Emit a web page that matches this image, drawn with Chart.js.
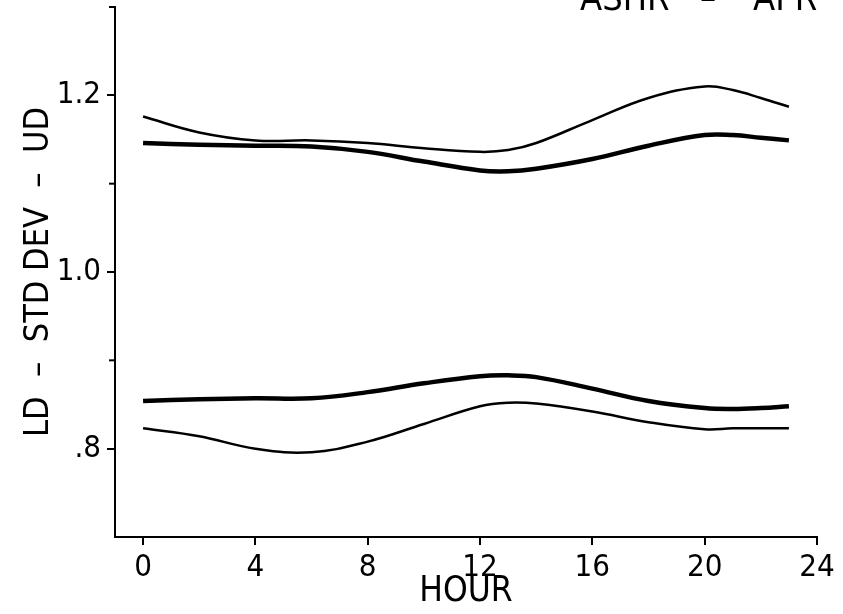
<!DOCTYPE html>
<html>
<head>
<meta charset="utf-8">
<script src="https://cdn.jsdelivr.net/npm/chart.js@4.4.1/dist/chart.umd.min.js"></script>
<style>
  html, body { margin: 0; padding: 0; background: #fff; }
  #wrap { width: 843px; height: 614px; position: relative; }
</style>
</head>
<body>
<div id="wrap"><canvas id="myChart" width="843" height="614"></canvas></div>
<script>
// hours of day
const hours = [0, 2, 4, 6, 8, 10, 12, 13, 14, 16, 18, 20, 21, 22, 23];

// UD curves (upper pair)
const udThin  = [1.176, 1.158, 1.149, 1.149, 1.146, 1.140, 1.136, 1.138, 1.146, 1.172, 1.197, 1.210, 1.206, 1.197, 1.187];
const udThick = [1.146, 1.144, 1.143, 1.142, 1.136, 1.125, 1.115, 1.114, 1.117, 1.128, 1.143, 1.155, 1.155, 1.152, 1.149];

// LD curves (lower pair)
const ldThick = [0.854, 0.856, 0.857, 0.857, 0.864, 0.874, 0.882, 0.883, 0.881, 0.868, 0.854, 0.846, 0.845, 0.846, 0.848];
const ldThin  = [0.823, 0.814, 0.800, 0.796, 0.808, 0.828, 0.848, 0.852, 0.851, 0.842, 0.830, 0.822, 0.823, 0.823, 0.823];

const xTicks = [0, 4, 8, 12, 16, 20, 24];
const yMajor = [0.8, 1.0, 1.2];
const yMinor = [0.9, 1.1, 1.3];

const FONT = "'Liberation Sans Narrow', 'DejaVu Sans Condensed', 'Liberation Sans', sans-serif";

function pts(ys) {
  return hours.map((h, i) => ({ x: h, y: ys[i] }));
}
function line(ys, w) {
  return {
    data: pts(ys),
    borderColor: '#000',
    borderWidth: w,
    pointRadius: 0,
    fill: false,
    tension: 0.4
  };
}

// short minor ticks on the y axis + cut-off header text
const extras = {
  id: 'extras',
  afterDraw(chart) {
    const ctx = chart.ctx;
    const y = chart.scales.y;
    ctx.save();
    ctx.strokeStyle = '#000';
    ctx.lineWidth = 2;
    yMinor.forEach(v => {
      const py = y.getPixelForValue(v);
      ctx.beginPath();
      ctx.moveTo(y.right - 6, py);
      ctx.lineTo(y.right, py);
      ctx.stroke();
    });
    ctx.fillStyle = '#000';
    ctx.font = '36px ' + FONT;
    ctx.textBaseline = 'alphabetic';
    ctx.fillText('ASHR', 580, 10);
    ctx.fillText('\u2013', 700, 10);
    ctx.fillText('APR', 753, 10);
    ctx.restore();
  }
};

const config = {
  type: 'line',
  data: {
    datasets: [
      line(udThin, 2.5),
      line(udThick, 4.5),
      line(ldThick, 4.5),
      line(ldThin, 2.5)
    ]
  },
  options: {
    responsive: false,
    animation: false,
    layout: { padding: { left: 0, right: 26, top: 7, bottom: 0 } },
    plugins: { legend: { display: false }, tooltip: { enabled: false } },
    scales: {
      x: {
        type: 'linear',
        min: -1,
        max: 24,
        afterBuildTicks: s => { s.ticks = xTicks.map(v => ({ value: v })); },
        afterFit: s => { s.height = 77; s.paddingLeft = 0; s.paddingRight = 0; },
        border: { display: true, color: '#000', width: 2 },
        grid: { drawOnChartArea: false, drawTicks: true, tickLength: 8, color: '#000', lineWidth: 2 },
        ticks: { color: '#000', autoSkip: false, maxRotation: 0, padding: 4, font: { family: FONT, size: 31 } },
        title: { display: true, text: 'HOUR', color: '#000', padding: { top: 0, bottom: 1 }, font: { family: FONT, size: 35 } }
      },
      y: {
        type: 'linear',
        min: 0.7,
        max: 1.3,
        afterBuildTicks: s => { s.ticks = yMajor.map(v => ({ value: v })); },
        afterFit: s => { s.width = 115; s.paddingTop = 0; s.paddingBottom = 0; },
        border: { display: true, color: '#000', width: 2 },
        grid: { drawOnChartArea: false, drawTicks: true, tickLength: 8, color: '#000', lineWidth: 2 },
        ticks: {
          color: '#000', autoSkip: false, padding: 6,
          font: { family: FONT, size: 31 },
          callback: v => (v < 1 ? String(v.toFixed(1)).replace(/^0/, '') : v.toFixed(1))
        },
        title: { display: true, text: 'LD  \u2013  STD DEV  \u2013  UD', color: '#000', padding: { top: 19, bottom: 0 }, font: { family: FONT, size: 34 } }
      }
    }
  },
  plugins: [extras]
};

var myChart = new Chart(document.getElementById('myChart'), config);
</script>
</body>
</html>
